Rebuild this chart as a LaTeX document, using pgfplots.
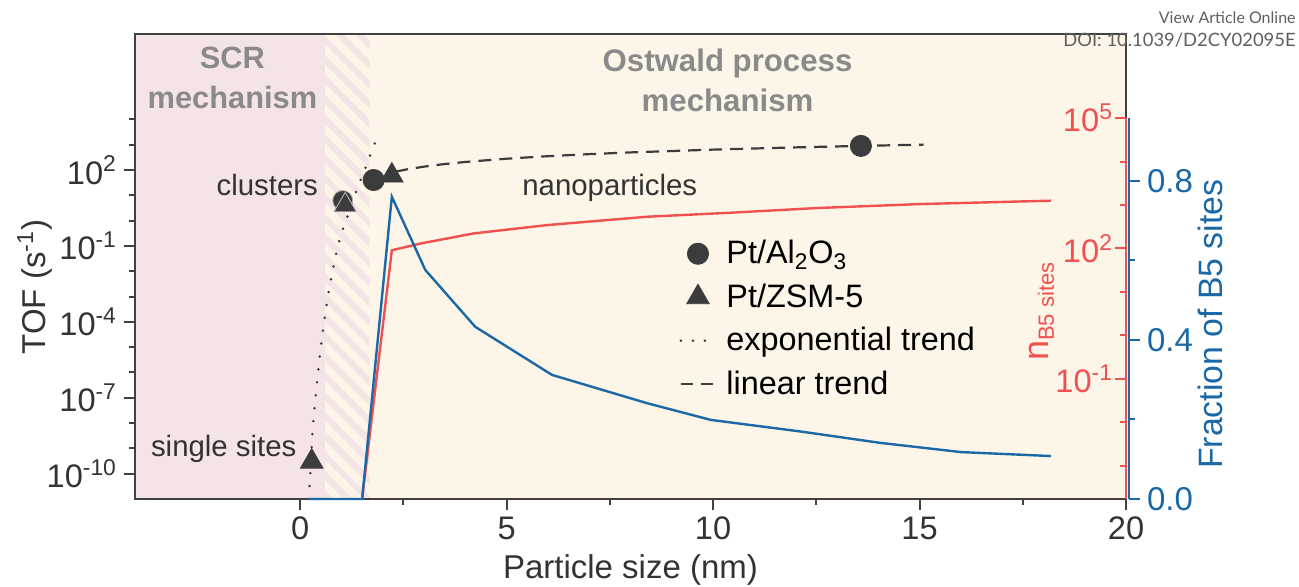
\documentclass[border=0pt]{standalone}
\usepackage{fontspec}
\setmainfont{Liberation Sans}
\newfontfamily\latofont{Lato}
\usepackage{pgfplots}
\pgfplotsset{compat=1.18}
\usetikzlibrary{patterns.meta}
\definecolor{bgpink}{HTML}{F5E4E6}
\definecolor{bgcream}{HTML}{FDF5E7}
\definecolor{cred}{HTML}{F05050}
\definecolor{cblue}{HTML}{1A68A6}
\definecolor{mk}{HTML}{3C3C3C}
\definecolor{axc}{HTML}{404040}
\definecolor{gtext}{HTML}{8A8A8A}
\definecolor{ttext}{HTML}{333333}
\definecolor{wm}{HTML}{5E5E5E}
\begin{document}
\begin{tikzpicture}
\useasboundingbox (-67.5pt,-43.5pt) rectangle (582pt,249.5pt);
% ---------------- main TOF axis ----------------
\begin{axis}[
  at={(0pt,0pt)}, anchor=south west,
  scale only axis, width=495.5pt, height=232.5pt,
  xmin=-4, xmax=20, ymode=log, ymin=1e-11, ymax=2.34e7,
  axis line style={axc, line width=1.2pt},
  axis on top,
  xtick={0,5,10,15,20}, xticklabels={0,5,10,15,20},
  minor xtick={2.5,7.5,12.5,17.5},
  ytick={1e-10,1e-7,1e-4,1e-1,1e2},
  yticklabels={10\textsuperscript{-10},10\textsuperscript{-7},10\textsuperscript{-4},10\textsuperscript{-1},10\textsuperscript{2}},
  minor ytick={1e-9,1e-8,1e-6,1e-5,1e-3,1e-2,1,10,1e3,1e4},
  tick align=outside, xtick pos=bottom, ytick pos=left,
  major tick length=5.5pt, minor tick length=3pt,
  tick style={axc, line width=1pt},
  tick label style={font=\fontsize{16.3}{18}\selectfont, text=ttext},
  xlabel={Particle size (nm)}, ylabel={TOF (s\textsuperscript{-1})},
  label style={font=\fontsize{16.5}{19}\selectfont, text=ttext},
  xlabel style={at={(axis description cs:0.5,-0.1527)}, anchor=center},
  ylabel style={at={(axis description cs:-0.101,0.456)}, anchor=center},
  legend style={at={(axis description cs:0.543,0.574)}, anchor=north west,
    draw=none, fill=none, font=\fontsize{16.2}{18}\selectfont, row sep=4.5pt,
    cells={anchor=west}, text=black,
    /tikz/every odd column/.append style={column sep=3pt}},
]
\fill[bgpink] (axis cs:-4,1e-11) rectangle (axis cs:0.6,2.34e7);
\fill[bgcream] (axis cs:0.6,1e-11) rectangle (axis cs:20,2.34e7);
\fill[pattern={Lines[angle=-45,distance=7pt,line width=3pt]}, pattern color=bgpink]
  (axis cs:0.6,1e-11) rectangle (axis cs:1.68,2.34e7);

\addlegendimage{only marks, mark=*, mark size=5.3pt, mk}
\addlegendentry{Pt/Al\textsubscript{2}O\textsubscript{3}}
\addlegendimage{only marks, mark=triangle*, mark size=6.5pt, mk}
\addlegendentry{Pt/ZSM-5}
\addlegendimage{mk, line width=1.4pt, line cap=round, dash pattern=on 0pt off 6pt}
\addlegendentry{exponential trend}
\addlegendimage{mk, line width=1.1pt, dash pattern=on 6pt off 4pt}
\addlegendentry{linear trend}

% exponential trend
\addplot[mk, line width=1.4pt, line cap=round, dash pattern=on 0pt off 6.5pt, smooth, forget plot]
coordinates {(0.21,1e-11) (0.26,2.51e-10) (0.30,5.01e-9) (0.36,6.31e-8) (0.42,6.31e-7)
 (0.50,1e-5) (0.58,1e-4) (0.66,7.94e-4) (0.76,6.31e-3) (0.86,3.98e-2) (0.98,0.251)
 (1.12,1.12) (1.28,6.31) (1.45,35.5) (1.62,178) (1.78,891) (1.94,3200)};
% linear trend
\addplot[mk, line width=1.1pt, dash pattern=on 6.5pt off 4pt, forget plot]
coordinates {(2.3,85.2) (2.6,106.6) (3,135.2) (3.5,170.9) (4,206.6) (5,278) (6,349.4)
 (7,420.8) (8,492.2) (10,635) (12,777.8) (13.6,892) (15.1,999.1)};
% Pt/Al2O3
\addplot[only marks, mark=*, mark size=5pt, mk, mark options={draw=gray!60}, forget plot]
coordinates {(1.03,6.2)};
\addplot[only marks, mark=*, mark size=5.3pt, mk, forget plot]
coordinates {(1.78,40) (13.58,890)};
% Pt/ZSM-5
\addplot[only marks, mark=triangle*, mark size=6.5pt, mk, mark options={draw=gray!50}, forget plot]
coordinates {(1.09,4)};
\addplot[only marks, mark=triangle*, mark size=6.5pt, mk, forget plot]
coordinates {(0.28,3e-10) (2.22,60)};

\node[font=\bfseries\fontsize{15.4}{20}\selectfont, text=gtext, align=center] at (axis cs:-1.64,4.4e5) {SCR\\mechanism};
\node[font=\bfseries\fontsize{15.6}{20}\selectfont, text=gtext, align=center] at (axis cs:10.35,3.6e5) {Ostwald process\\mechanism};
\node[anchor=base east, inner sep=0pt, font=\fontsize{14.7}{16}\selectfont, text=ttext] at (axis cs:0.44,10.2) {clusters};
\node[anchor=base west, inner sep=0pt, font=\fontsize{14.7}{16}\selectfont, text=ttext] at (axis cs:5.37,10.2) {nanoparticles};
\node[anchor=base east, inner sep=0pt, font=\fontsize{14.7}{16}\selectfont, text=ttext] at (axis cs:-0.08,4.7e-10) {single sites};
\end{axis}

% ---------------- red n_B5 axis ----------------
\begin{axis}[
  at={(0pt,0pt)}, anchor=south west,
  scale only axis, width=495.5pt, height=190.5pt,
  xmin=-4, xmax=20, ymode=log, ymin=1.74e-4, ymax=1e5,
  hide x axis, axis y line*=right,
  y axis line style={cred, line width=1pt, -},
  ytick={1e-1,1e2,1e5},
  yticklabels={10\textsuperscript{-1},10\textsuperscript{2},10\textsuperscript{5}},
  minor ytick={1e-3,1e-2,1,10,1e3,1e4},
  tick align=inside, major tick length=5.5pt, minor tick length=3pt,
  tick style={cred, line width=1pt},
  yticklabel style={font=\fontsize{16.3}{18}\selectfont, text=cred, anchor=east, xshift=-3pt},
  ylabel={n\textsubscript{\fontsize{11}{12}\selectfont B5 sites}},
  ylabel style={at={(axis description cs:0.915,0.493)}, anchor=center, text=cred, font=\fontsize{18}{20}\selectfont},
  clip=false,
]
\addplot[cred, line width=1.2pt] coordinates {(1.5,1.74e-4) (2.22,91) (2.91,130) (4.2,222)
 (5.98,345) (8.4,537) (10.42,664) (12.5,850) (15,1050) (18.18,1257)};
\end{axis}

% ---------------- blue fraction axis ----------------
\begin{axis}[
  at={(0pt,0pt)}, anchor=south west,
  scale only axis, width=497pt, height=190.5pt,
  xmin=-4, xmax=20.0727, ymin=0, ymax=0.958,
  hide x axis, axis y line*=right,
  y axis line style={cblue, line width=1pt, -},
  ytick={0,0.4,0.8}, yticklabels={0.0,0.4,0.8},
  minor ytick={0.2,0.6},
  tick align=outside, major tick length=5.5pt, minor tick length=3pt,
  tick style={cblue, line width=1pt},
  yticklabel style={font=\fontsize{16.5}{18}\selectfont, text=cblue},
  ylabel={Fraction of B5 sites},
  ylabel style={at={(axis description cs:1.082,0.459)}, anchor=center, text=cblue, font=\fontsize{16.9}{19}\selectfont},
  clip=false,
]
\addplot[cblue, line width=1.2pt] coordinates {(0.2,0) (1.5,0) (2.22,0.76) (3.03,0.576)
 (4.24,0.433) (6.1,0.312) (8.4,0.241) (9.94,0.199) (12.1,0.17) (14.06,0.141) (16,0.118) (18.18,0.108)};
\end{axis}

\node[anchor=east, inner sep=0pt, font=\latofont\fontsize{8}{9}\selectfont, text=wm] at (580.5pt,240.5pt) {View Article Online};
\node[anchor=east, inner sep=0pt, font=\latofont\fontsize{9.2}{10}\selectfont, text=wm] at (580.5pt,229.5pt) {DOI: 10.1039/D2CY02095E};
\end{tikzpicture}
\end{document}
